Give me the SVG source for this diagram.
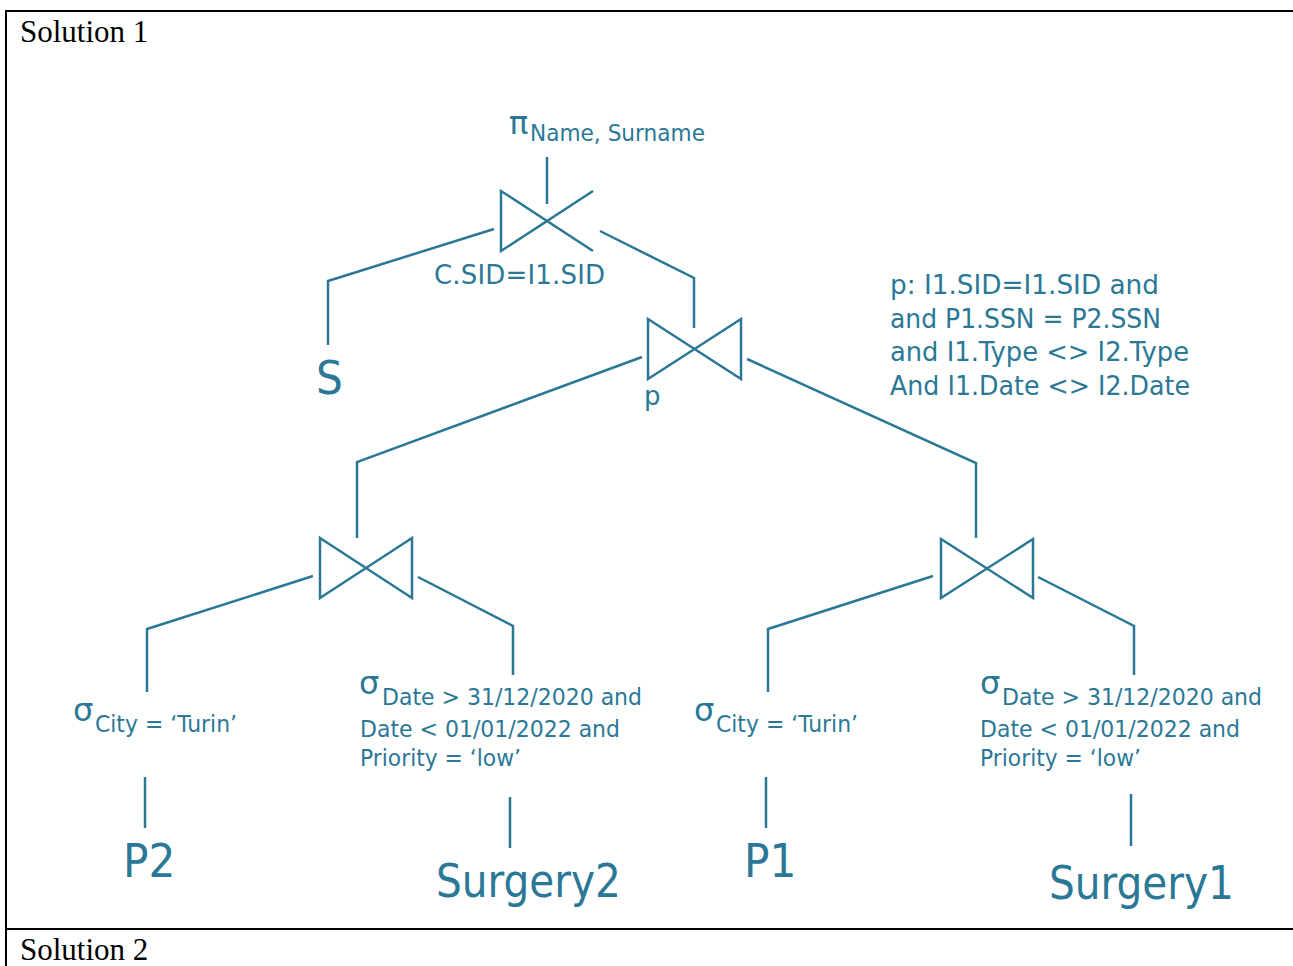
<svg xmlns="http://www.w3.org/2000/svg" width="1293" height="966" viewBox="0 0 1293 966">
  <style>
    .ln { stroke: #2a7896; stroke-width: 2.5; fill: none; stroke-linejoin: miter; }
    .t { font-family: 'DejaVu Sans', Verdana, sans-serif; fill: #2a7896; }
    .sub { font-size: 23px; }
    .cond { font-size: 26px; }
    .greek { font-size: 32px; }
    .big { font-family: 'DejaVu Sans Condensed', 'DejaVu Sans', sans-serif; font-size: 47px; fill: #2a7896; }
    .frame { stroke: #000; stroke-width: 2; fill: none; }
    .sol { font-family: 'Liberation Serif', 'Times New Roman', serif; font-size: 31px; fill: #000; }
  </style>

  <rect width="1293" height="966" fill="#fff"/>

  <!-- table frame -->
  <g id="frame">
    <line class="frame" x1="5" y1="11" x2="1293" y2="11"/>
    <line class="frame" x1="6" y1="10" x2="6" y2="966"/>
    <line class="frame" x1="5" y1="929" x2="1293" y2="929"/>
    <text class="sol" x="20" y="42">Solution 1</text>
    <text class="sol" x="20" y="960">Solution 2</text>
  </g>

  <!-- connectors -->
  <g id="connectors">
    <polyline class="ln" points="547,157 547,204"/>
    <polyline class="ln" points="494,229 328,281 328,345"/>
    <polyline class="ln" points="600,231 694,278 694,328"/>
    <polyline class="ln" points="642,357 357,462 357,538"/>
    <polyline class="ln" points="747,359 976,463 976,538"/>
    <polyline class="ln" points="313,576 147,629 147,692"/>
    <polyline class="ln" points="418,577 513,626 513,675"/>
    <polyline class="ln" points="933,576 768,629 768,692"/>
    <polyline class="ln" points="1038,577 1134,626 1134,675"/>
    <line class="ln" x1="145" y1="777" x2="145" y2="828"/>
    <line class="ln" x1="510" y1="797" x2="510" y2="848"/>
    <line class="ln" x1="766" y1="777" x2="766" y2="828"/>
    <line class="ln" x1="1131" y1="794" x2="1131" y2="846"/>
  </g>

  <!-- projection -->
  <g id="projection">
    <text class="t greek" x="509" y="134">π</text>
    <text class="t sub" x="530" y="141" textLength="175" lengthAdjust="spacingAndGlyphs">Name, Surname</text>
  </g>

  <!-- top join on C.SID=I1.SID -->
  <g id="join-top">
    <path class="ln" d="M593,191 L501,251 L501,191 L593,251"/>
    <text class="t cond" x="434" y="284" textLength="171" lengthAdjust="spacing">C.SID=I1.SID</text>
  </g>

  <!-- join p -->
  <g id="join-p">
    <path class="ln" d="M648,319 L648,379 L741,319 L741,379 Z"/>
    <text class="t cond" x="644" y="405">p</text>
  </g>

  <!-- predicate of join p -->
  <g id="predicate-p" class="t cond">
    <text x="890" y="294" textLength="269" lengthAdjust="spacingAndGlyphs">p: I1.SID=I1.SID and</text>
    <text x="890" y="328" textLength="271" lengthAdjust="spacingAndGlyphs">and P1.SSN = P2.SSN</text>
    <text x="890" y="361" textLength="299" lengthAdjust="spacingAndGlyphs">and I1.Type &lt;&gt; I2.Type</text>
    <text x="890" y="395" textLength="300" lengthAdjust="spacingAndGlyphs">And I1.Date &lt;&gt; I2.Date</text>
  </g>

  <!-- relation S -->
  <g id="rel-S">
    <text class="big" x="316" y="394">S</text>
  </g>

  <!-- left join -->
  <g id="join-left">
    <path class="ln" d="M320,538 L320,598 L412,538 L412,598 Z"/>
  </g>

  <!-- right join -->
  <g id="join-right">
    <path class="ln" d="M941,539 L941,598 L1033,539 L1033,598 Z"/>
  </g>

  <!-- selection on P2 -->
  <g id="sel-p2">
    <text class="t greek" x="73" y="721">σ</text>
    <text class="t sub" x="95" y="732" textLength="142" lengthAdjust="spacingAndGlyphs">City = ‘Turin’</text>
  </g>

  <!-- selection on Surgery2 -->
  <g id="sel-surgery2" class="t sub">
    <text class="greek" x="359" y="694">σ</text>
    <text x="382" y="705" textLength="260" lengthAdjust="spacingAndGlyphs">Date &gt; 31/12/2020 and</text>
    <text x="360" y="737" textLength="260" lengthAdjust="spacingAndGlyphs">Date &lt; 01/01/2022 and</text>
    <text x="360" y="766" textLength="161" lengthAdjust="spacingAndGlyphs">Priority = ‘low’</text>
  </g>

  <!-- selection on P1 -->
  <g id="sel-p1">
    <text class="t greek" x="694" y="721">σ</text>
    <text class="t sub" x="716" y="732" textLength="142" lengthAdjust="spacingAndGlyphs">City = ‘Turin’</text>
  </g>

  <!-- selection on Surgery1 -->
  <g id="sel-surgery1" class="t sub">
    <text class="greek" x="980" y="694">σ</text>
    <text x="1002" y="705" textLength="260" lengthAdjust="spacingAndGlyphs">Date &gt; 31/12/2020 and</text>
    <text x="980" y="737" textLength="260" lengthAdjust="spacingAndGlyphs">Date &lt; 01/01/2022 and</text>
    <text x="980" y="766" textLength="161" lengthAdjust="spacingAndGlyphs">Priority = ‘low’</text>
  </g>

  <!-- base relations -->
  <g id="rel-P2"><text class="big" x="123" y="877">P2</text></g>
  <g id="rel-Surgery2"><text class="big" x="436" y="897" textLength="185" lengthAdjust="spacingAndGlyphs">Surgery2</text></g>
  <g id="rel-P1"><text class="big" x="744" y="877">P1</text></g>
  <g id="rel-Surgery1"><text class="big" x="1049" y="899" textLength="185" lengthAdjust="spacingAndGlyphs">Surgery1</text></g>
</svg>
